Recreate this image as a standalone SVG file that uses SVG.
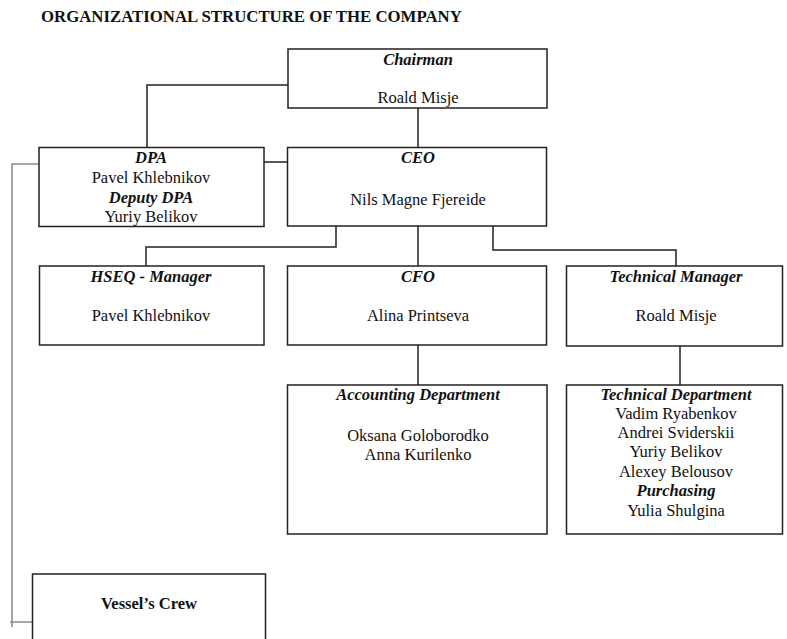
<svg xmlns="http://www.w3.org/2000/svg" width="787" height="639" viewBox="0 0 787 639">
<style>
  .box { fill: #fff; stroke: #222; stroke-width: 1.5; }
  .t { font-family: "Liberation Serif", "Times New Roman", serif; font-size: 16.5px; fill: #111; text-anchor: middle; }
  .h { font-weight: bold; font-style: italic; }
  .b { font-weight: bold; }
  .title { font-family: "Liberation Serif", "Times New Roman", serif; font-size: 16.8px; font-weight: bold; fill: #111; }
  .c { fill: none; stroke: #222; stroke-width: 1.5; }
  .g { fill: none; stroke: #8a8a8a; stroke-width: 1.5; }
</style>
<rect width="787" height="639" fill="#fff"/>
<text class="title" x="41" y="22">ORGANIZATIONAL STRUCTURE OF THE COMPANY</text>

<g id="connectors">
  <polyline class="c" points="147,148 147,85 288,85"/>
  <line class="c" x1="418" y1="108" x2="418" y2="148"/>
  <line class="c" x1="264" y1="162" x2="288" y2="162"/>
  <polyline class="c" points="336,226 336,247 146,247 146,266"/>
  <line class="c" x1="418" y1="226" x2="418" y2="266"/>
  <polyline class="c" points="493,226 493,250 676,250 676,266"/>
  <line class="c" x1="418" y1="345" x2="418" y2="385"/>
  <line class="c" x1="680" y1="346" x2="680" y2="385"/>
  <polyline class="g" points="39,164 12,164 12,627"/>
  <line class="g" x1="10" y1="622" x2="33" y2="622"/>
</g>

<g id="chairman">
  <rect class="box" x="288" y="49" width="259" height="59"/>
  <text class="t h" x="418" y="65">Chairman</text>
  <text class="t" x="418" y="103">Roald Misje</text>
</g>

<g id="dpa">
  <rect class="box" x="39" y="147.5" width="225" height="79"/>
  <text class="t h" x="151" y="163">DPA</text>
  <text class="t" x="151" y="183">Pavel Khlebnikov</text>
  <text class="t h" x="151" y="203">Deputy DPA</text>
  <text class="t" x="151" y="222">Yuriy Belikov</text>
</g>

<g id="ceo">
  <rect class="box" x="287.5" y="147.5" width="259" height="78.5"/>
  <text class="t h" x="418" y="163">CEO</text>
  <text class="t" x="418" y="205">Nils Magne Fjereide</text>
</g>

<g id="hseq">
  <rect class="box" x="39.5" y="266" width="224.5" height="79"/>
  <text class="t h" x="151" y="282">HSEQ - Manager</text>
  <text class="t" x="151" y="321">Pavel Khlebnikov</text>
</g>

<g id="cfo">
  <rect class="box" x="287.5" y="266" width="259" height="79"/>
  <text class="t h" x="418" y="282">CFO</text>
  <text class="t" x="418" y="321">Alina Printseva</text>
</g>

<g id="technical-manager">
  <rect class="box" x="566.5" y="266" width="216" height="80"/>
  <text class="t h" x="676" y="282">Technical Manager</text>
  <text class="t" x="676" y="321">Roald Misje</text>
</g>

<g id="accounting">
  <rect class="box" x="287.5" y="385" width="259.5" height="149"/>
  <text class="t h" x="418" y="400">Accounting Department</text>
  <text class="t" x="418" y="441">Oksana Goloborodko</text>
  <text class="t" x="418" y="460">Anna Kurilenko</text>
</g>

<g id="technical-department">
  <rect class="box" x="566.5" y="385" width="216" height="149"/>
  <text class="t h" x="676" y="399.5">Technical Department</text>
  <text class="t" x="676" y="418.5">Vadim Ryabenkov</text>
  <text class="t" x="676" y="438">Andrei Sviderskii</text>
  <text class="t" x="676" y="457">Yuriy Belikov</text>
  <text class="t" x="676" y="476.5">Alexey Belousov</text>
  <text class="t h" x="676" y="496">Purchasing</text>
  <text class="t" x="676" y="515.5">Yulia Shulgina</text>
</g>

<g id="vessels-crew">
  <rect class="box" x="32.5" y="574" width="233" height="80"/>
  <text class="t b" x="149" y="609">Vessel’s Crew</text>
</g>
</svg>
